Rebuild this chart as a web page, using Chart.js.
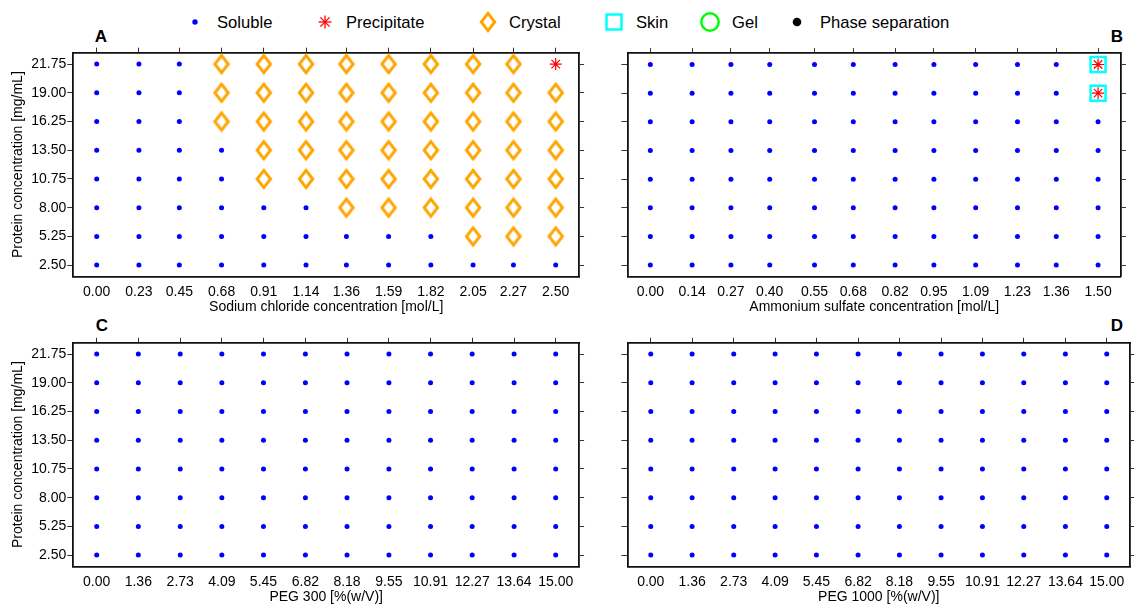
<!DOCTYPE html>
<html>
<head>
<meta charset="utf-8">
<title>Protein phase behaviour screens</title>
<script src="https://cdn.jsdelivr.net/npm/chart.js@4.4.1/dist/chart.umd.min.js"></script>
<style>
  html, body { margin: 0; padding: 0; background: #fff; }
  body { width: 1134px; height: 605px; position: relative; overflow: hidden;
         font-family: 'Liberation Sans', Arial, Helvetica, sans-serif; color: #000; }
  canvas { position: absolute; }
  .key-mark { position: absolute; width: 28px; height: 28px; transform: translate(-50%, -50%); }
  .key-text { position: absolute; font-size: 16.6px; line-height: 17px; transform: translateY(-50%); white-space: nowrap; }
  .tag { position: absolute; font-size: 17px; font-weight: bold; line-height: 17px; transform: translate(-50%, -50%); }
</style>
</head>
<body>

<!-- key -->
<svg class="key-mark" style="left:195px;top:22px" viewBox="-14 -14 28 28"><circle r="2.7" fill="#0000ff"/></svg>
<div class="key-text" style="left:217px;top:22px">Soluble</div>
<svg class="key-mark" style="left:324.5px;top:22px" viewBox="-14 -14 28 28">
  <g stroke="#ff0000" stroke-width="1.3">
    <line x1="0" y1="-6.5" x2="0" y2="6.5"/><line x1="-6.5" y1="0" x2="6.5" y2="0"/>
    <line x1="-4.6" y1="-4.6" x2="4.6" y2="4.6"/><line x1="-4.6" y1="4.6" x2="4.6" y2="-4.6"/>
  </g>
</svg>
<div class="key-text" style="left:346px;top:22px">Precipitate</div>
<svg class="key-mark" style="left:488px;top:22px" viewBox="-14 -14 28 28">
  <polygon points="0,-8.6 6.7,0 0,8.6 -6.7,0" fill="none" stroke="#ffa500" stroke-width="3" stroke-linejoin="miter"/>
</svg>
<div class="key-text" style="left:509px;top:22px">Crystal</div>
<svg class="key-mark" style="left:613.5px;top:22px" viewBox="-14 -14 28 28">
  <rect x="-7.5" y="-7.5" width="15" height="15" fill="none" stroke="#00ffff" stroke-width="2.5"/>
</svg>
<div class="key-text" style="left:636px;top:22px">Skin</div>
<svg class="key-mark" style="left:710px;top:22px" viewBox="-14 -14 28 28">
  <circle r="8.7" fill="none" stroke="#00ff00" stroke-width="2.5"/>
</svg>
<div class="key-text" style="left:732px;top:22px">Gel</div>
<svg class="key-mark" style="left:797px;top:22px" viewBox="-14 -14 28 28"><circle r="4.3" fill="#000"/></svg>
<div class="key-text" style="left:820px;top:22px">Phase separation</div>

<div class="tag" style="left:101px;top:36px">A</div>
<div class="tag" style="left:1117px;top:36px">B</div>
<div class="tag" style="left:102px;top:325px">C</div>
<div class="tag" style="left:1117px;top:325px">D</div>

<canvas id="panelA" width="590" height="280" style="left:0px;top:40px"></canvas>
<canvas id="panelB" width="584" height="280" style="left:550px;top:40px"></canvas>
<canvas id="panelC" width="590" height="275" style="left:0px;top:330px"></canvas>
<canvas id="panelD" width="584" height="275" style="left:550px;top:330px"></canvas>

<script>
// Protein concentrations screened [mg/mL] (y axis of every panel)
const proteinLevels = [2.50, 5.25, 8.00, 10.75, 13.50, 16.25, 19.00, 21.75];

// Precipitant concentrations (x axes)
const naclLevels = [0.00, 0.23, 0.45, 0.68, 0.91, 1.14, 1.36, 1.59, 1.82, 2.05, 2.27, 2.50];
const ammoniumSulfateLevels = [0.00, 0.14, 0.27, 0.40, 0.55, 0.68, 0.82, 0.95, 1.09, 1.23, 1.36, 1.50];
const peg300Levels = [0.00, 1.36, 2.73, 4.09, 5.45, 6.82, 8.18, 9.55, 10.91, 12.27, 13.64, 15.00];
const peg1000Levels = [0.00, 1.36, 2.73, 4.09, 5.45, 6.82, 8.18, 9.55, 10.91, 12.27, 13.64, 15.00];

// Observed outcome per well, rows from 21.75 mg/mL down to 2.50 mg/mL.
// S = soluble, C = crystal, P = precipitate, K = skin with precipitate
const naclOutcomes = [
  "SSSCCCCCCCCP",
  "SSSCCCCCCCCC",
  "SSSCCCCCCCCC",
  "SSSSCCCCCCCC",
  "SSSSCCCCCCCC",
  "SSSSSSCCCCCC",
  "SSSSSSSSSCCC",
  "SSSSSSSSSSSS"
];
const ammoniumSulfateOutcomes = [
  "SSSSSSSSSSSK",
  "SSSSSSSSSSSK",
  "SSSSSSSSSSSS",
  "SSSSSSSSSSSS",
  "SSSSSSSSSSSS",
  "SSSSSSSSSSSS",
  "SSSSSSSSSSSS",
  "SSSSSSSSSSSS"
];
const peg300Outcomes = [
  "SSSSSSSSSSSS",
  "SSSSSSSSSSSS",
  "SSSSSSSSSSSS",
  "SSSSSSSSSSSS",
  "SSSSSSSSSSSS",
  "SSSSSSSSSSSS",
  "SSSSSSSSSSSS",
  "SSSSSSSSSSSS"
];
const peg1000Outcomes = [
  "SSSSSSSSSSSS",
  "SSSSSSSSSSSS",
  "SSSSSSSSSSSS",
  "SSSSSSSSSSSS",
  "SSSSSSSSSSSS",
  "SSSSSSSSSSSS",
  "SSSSSSSSSSSS",
  "SSSSSSSSSSSS"
];

const FONT = "'Liberation Sans', Arial, Helvetica, sans-serif";
const tickFont = { family: FONT, size: 14, lineHeight: 1 };
const titleFont = { family: FONT, size: 14, lineHeight: 1 };

// tall open diamond used for crystal hits
function crystalMarker() {
  const c = document.createElement('canvas');
  c.width = 24; c.height = 28;
  const g = c.getContext('2d');
  g.strokeStyle = '#ffa500';
  g.lineWidth = 3;
  g.lineJoin = 'miter';
  g.beginPath();
  g.moveTo(12, 14 - 8.6);
  g.lineTo(12 + 6.7, 14);
  g.lineTo(12, 14 + 8.6);
  g.lineTo(12 - 6.7, 14);
  g.closePath();
  g.stroke();
  return c;
}
const crystalImg = crystalMarker();

function wellsWith(xLevels, outcomes, codes) {
  const pts = [];
  outcomes.forEach((row, r) => {
    const y = proteinLevels[proteinLevels.length - 1 - r];
    row.split('').forEach((code, i) => {
      if (codes.indexOf(code) >= 0) pts.push({ x: xLevels[i], y: y });
    });
  });
  return pts;
}

function fixedTicks(levels) {
  return function (scale) { scale.ticks = levels.map(v => ({ value: v })); };
}

// frame padding as a fraction of the data range
const X_PAD = 0.051, Y_PAD = 0.0567;

function panel(id, opts) {
  const xLevels = opts.xLevels;
  const xLo = xLevels[0], xHi = xLevels[xLevels.length - 1];
  const xMin = xLo - (xHi - xLo) * X_PAD, xMax = xHi + (xHi - xLo) * X_PAD;
  const yLo = proteinLevels[0], yHi = proteinLevels[proteinLevels.length - 1];
  const yMin = yLo - (yHi - yLo) * Y_PAD, yMax = yHi + (yHi - yLo) * Y_PAD;
  const frame = { display: true, color: '#111', width: 1.8 };

  const datasets = [
    { label: 'Skin', data: wellsWith(xLevels, opts.outcomes, 'K'),
      pointStyle: 'rect', radius: 10.6, borderColor: '#00ffff', borderWidth: 2.5, backgroundColor: 'rgba(0,0,0,0)' },
    { label: 'Soluble', data: wellsWith(xLevels, opts.outcomes, 'S'),
      pointStyle: 'circle', radius: 2.5, backgroundColor: '#0000ff', borderWidth: 0 },
    { label: 'Crystal', data: wellsWith(xLevels, opts.outcomes, 'C'),
      pointStyle: crystalImg, radius: 9 },
    { label: 'Precipitate', data: wellsWith(xLevels, opts.outcomes, 'PK'),
      pointStyle: 'star', radius: 6, borderColor: '#ff0000', borderWidth: 1.2 }
  ].filter(d => d.data.length);

  return new Chart(document.getElementById(id), {
    type: 'scatter',
    data: { datasets: datasets },
    options: {
      responsive: false,
      animation: false,
      devicePixelRatio: 1,
      layout: { padding: 0 },
      plugins: { legend: { display: false }, tooltip: { enabled: false } },
      events: [],
      scales: {
        x: {
          type: 'linear', position: 'bottom', min: xMin, max: xMax, bounds: 'data',
          afterBuildTicks: fixedTicks(xLevels),
          afterFit: s => { s.height = opts.bottomH; },
          ticks: { font: tickFont, color: '#000', padding: 9, autoSkip: false, maxRotation: 0,
                   callback: v => Number(v).toFixed(2) },
          grid: { display: false, drawTicks: false },
          border: frame,
          title: { display: true, text: opts.xTitle, font: titleFont, color: '#000',
                   padding: { top: 0, bottom: opts.titlePadBottom } }
        },
        xTop: {
          type: 'linear', position: 'top', min: xMin, max: xMax, bounds: 'data',
          afterBuildTicks: fixedTicks(xLevels),
          afterFit: s => { s.height = opts.topH; },
          ticks: { display: false },
          grid: { display: true, drawOnChartArea: false, drawTicks: true, tickLength: 5, color: '#333', lineWidth: 1 },
          border: frame
        },
        y: {
          type: 'linear', position: 'left', min: yMin, max: yMax, bounds: 'data',
          afterBuildTicks: fixedTicks(proteinLevels),
          afterFit: s => { s.width = opts.leftW; },
          ticks: { display: opts.yLabels, font: tickFont, color: '#000', padding: 1, autoSkip: false,
                   callback: v => Number(v).toFixed(2) },
          grid: { display: true, drawOnChartArea: false, drawTicks: true, tickLength: 6, color: '#333', lineWidth: 1 },
          border: frame,
          title: { display: opts.yLabels, text: 'Protein concentration [mg/mL]', font: titleFont, color: '#000',
                   padding: { top: 11, bottom: 0 } }
        },
        yRight: {
          type: 'linear', position: 'right', min: yMin, max: yMax, bounds: 'data',
          afterBuildTicks: fixedTicks(proteinLevels),
          afterFit: s => { s.width = opts.rightW; },
          ticks: { display: false },
          grid: { display: true, drawOnChartArea: false, drawTicks: true, tickLength: 5, color: '#333', lineWidth: 1 },
          border: frame
        }
      }
    }
  });
}

panel('panelA', { xLevels: naclLevels, outcomes: naclOutcomes, xTitle: 'Sodium chloride concentration [mol/L]',
  yLabels: true, leftW: 73.3, rightW: 10.9, topH: 12.7, bottomH: 43.5, titlePadBottom: 6 });
panel('panelB', { xLevels: ammoniumSulfateLevels, outcomes: ammoniumSulfateOutcomes, xTitle: 'Ammonium sulfate concentration [mol/L]',
  yLabels: false, leftW: 77.5, rightW: 0.7, topH: 12.7, bottomH: 43.5, titlePadBottom: 6 });
panel('panelC', { xLevels: peg300Levels, outcomes: peg300Outcomes, xTitle: 'PEG 300 [%(w/V)]',
  yLabels: true, leftW: 73.3, rightW: 10.9, topH: 12.7, bottomH: 38.5, titlePadBottom: 1.3 });
panel('panelD', { xLevels: peg1000Levels, outcomes: peg1000Outcomes, xTitle: 'PEG 1000 [%(w/V)]',
  yLabels: false, leftW: 77.5, rightW: 0.7, topH: 12.7, bottomH: 38.5, titlePadBottom: 1.3 });
</script>
</body>
</html>
